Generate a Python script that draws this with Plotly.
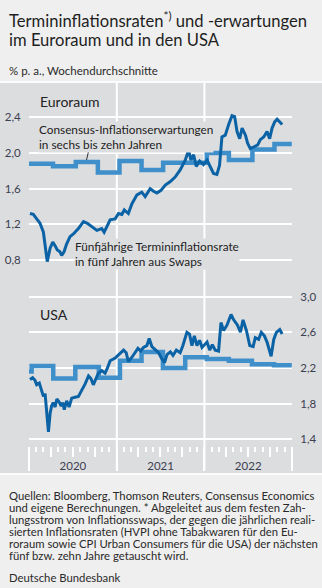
import plotly.graph_objects as go

W, H = 322, 588
FONT = "Lato"

# ---------------- data ----------------
eu_dates = ["2020-01-05","2020-01-19","2020-02-02","2020-02-16","2020-03-01","2020-03-08","2020-03-17","2020-03-29",
"2020-04-09","2020-04-18","2020-04-28","2020-05-09","2020-05-16","2020-05-26","2020-06-06","2020-06-20","2020-07-04",
"2020-07-25","2020-08-15","2020-08-31","2020-09-19","2020-10-10","2020-10-30","2020-11-09","2020-11-20","2020-12-04",
"2020-12-25","2021-01-08","2021-01-22","2021-02-01","2021-02-18","2021-03-05","2021-03-26","2021-04-15","2021-04-29",
"2021-05-20","2021-06-03","2021-06-17","2021-07-04","2021-07-22","2021-08-12","2021-09-01","2021-09-22","2021-10-13",
"2021-10-27","2021-11-06","2021-11-17","2021-11-28","2021-12-12","2021-12-28","2022-01-12","2022-01-26","2022-02-08",
"2022-02-22","2022-03-05","2022-03-15","2022-03-29","2022-04-12","2022-04-26","2022-05-07","2022-05-17","2022-05-28",
"2022-06-07","2022-06-21","2022-06-30","2022-07-11","2022-07-25","2022-08-11","2022-08-22","2022-09-05","2022-09-19",
"2022-09-30","2022-10-10","2022-10-21","2022-10-31","2022-11-11","2022-11-21"]
eu_5y5y = [1.32,1.31,1.26,1.21,1.11,0.96,0.78,0.93,
1.00,0.96,0.91,0.89,0.85,0.89,0.98,1.06,1.09,
1.15,1.23,1.21,1.17,1.13,1.15,1.11,1.17,1.25,
1.26,1.32,1.31,1.36,1.32,1.43,1.53,1.56,1.51,
1.60,1.57,1.55,1.58,1.64,1.68,1.73,1.81,1.92,
2.03,1.92,1.98,1.85,1.91,1.87,1.92,1.85,1.77,
1.76,1.86,2.18,2.20,2.32,2.42,2.41,2.24,2.16,
2.28,2.20,2.11,2.05,2.07,2.09,2.15,2.18,2.24,
2.16,2.28,2.35,2.38,2.35,2.32]

eu_cons_dates = ["2020-01-01","2020-04-10","2020-07-14","2020-10-14","2021-01-12","2021-04-14","2021-07-13",
"2021-10-12","2022-01-11","2022-04-13","2022-07-20","2022-10-20","2022-12-31"]
eu_cons = [1.88,1.85,1.90,1.78,1.91,1.81,1.89,1.89,2.00,1.92,2.04,2.10,2.10]

us_dates = ["2020-01-05","2020-01-16","2020-01-26","2020-02-02","2020-02-13","2020-02-23","2020-03-01","2020-03-08",
"2020-03-15","2020-03-22","2020-03-29","2020-04-05","2020-04-11","2020-04-19","2020-04-26","2020-05-05","2020-05-14",
"2020-05-21","2020-05-27","2020-06-06","2020-06-16","2020-06-27","2020-07-11","2020-07-25","2020-08-08","2020-08-22",
"2020-09-05","2020-09-15","2020-09-25","2020-10-07","2020-10-16","2020-10-30","2020-11-13","2020-11-23","2020-12-04",
"2020-12-25","2021-01-08","2021-01-18","2021-01-29","2021-02-09","2021-02-18","2021-03-05","2021-03-18","2021-03-30",
"2021-04-11","2021-04-22","2021-05-06","2021-05-16","2021-05-27","2021-06-10","2021-06-24","2021-07-08","2021-07-19",
"2021-07-29","2021-08-12","2021-08-23","2021-09-06","2021-09-22","2021-10-03","2021-10-20","2021-10-31","2021-11-10",
"2021-11-20","2021-12-01","2021-12-12","2021-12-22","2021-12-31","2022-01-12","2022-01-23","2022-02-03","2022-02-15",
"2022-03-01","2022-03-11","2022-03-22","2022-04-05","2022-04-22","2022-05-03","2022-05-19","2022-05-31","2022-06-11",
"2022-06-25","2022-07-09","2022-07-23","2022-08-01","2022-08-15","2022-08-26","2022-09-08","2022-09-19","2022-10-06",
"2022-10-17","2022-10-28","2022-11-11","2022-11-21"]
us_5y5y = [2.07,2.09,2.06,2.01,2.03,1.95,1.88,1.91,
1.69,1.48,1.69,1.78,1.81,1.76,1.85,1.82,1.77,
1.81,1.73,1.83,1.76,1.86,1.87,1.88,1.95,2.02,
2.11,2.08,2.01,2.08,2.14,2.17,2.14,2.20,2.28,
2.31,2.35,2.38,2.40,2.37,2.27,2.32,2.37,2.42,
2.39,2.43,2.45,2.53,2.44,2.40,2.37,2.30,2.26,
2.35,2.38,2.34,2.40,2.37,2.45,2.60,2.58,2.45,
2.56,2.45,2.51,2.43,2.46,2.49,2.40,2.46,2.40,
2.39,2.71,2.62,2.68,2.80,2.74,2.68,2.60,2.74,
2.62,2.45,2.44,2.54,2.52,2.60,2.56,2.49,2.33,
2.52,2.60,2.63,2.58]

us_cons_dates = ["2020-01-01","2020-01-12","2020-04-11","2020-07-12","2020-10-18","2021-01-14","2021-04-14",
"2021-07-12","2021-10-13","2022-01-11","2022-04-13","2022-07-18","2022-10-18","2022-12-31"]
us_cons = [2.16,2.22,2.08,2.21,2.09,2.28,2.38,2.20,2.32,2.30,2.28,2.24,2.23,2.23]

eu_ticks = [0.8, 1.2, 1.6, 2.0, 2.4]
us_ticks = [1.4, 1.8, 2.2, 2.6, 3.0]
x_range = ["2020-01-01", "2023-01-01"]
grid_years = ["2021-01-01", "2022-01-01"]

# ---------------- colours ----------------
PAGE = "#efefef"
PANEL = "#dcdddf"
DARK = "#0b63a6"
LIGHT = "#3f8fca"
TXT = "#222222"
TICK = "#3b4050"

def py(px):
    return 1 - px / H

def pxx(px):
    return px / W

X0, X1 = 29, 292
dom_x = [pxx(X0), pxx(X1)]

EU_R = [0.70, 2.75]
eu_top = 117.4 - (EU_R[1] - 2.4) * 89
eu_bot = 117.4 + (2.4 - EU_R[0]) * 89
US_R = [1.32, 3.25]
us_top = 296.7 - (US_R[1] - 3.0) * 89
us_bot = 296.7 + (3.0 - US_R[0]) * 89

fig = go.Figure()
fig.add_trace(go.Scatter(x=eu_cons_dates, y=eu_cons, mode="lines", line=dict(color=LIGHT, width=4.5, shape="hv"),
                         xaxis="x", yaxis="y", hoverinfo="skip"))
fig.add_trace(go.Scatter(x=eu_dates, y=eu_5y5y, mode="lines", line=dict(color=DARK, width=3),
                         xaxis="x", yaxis="y", hoverinfo="skip"))
fig.add_trace(go.Scatter(x=us_cons_dates, y=us_cons, mode="lines", line=dict(color=LIGHT, width=4.5, shape="hv"),
                         xaxis="x2", yaxis="y2", hoverinfo="skip"))
fig.add_trace(go.Scatter(x=us_dates, y=us_5y5y, mode="lines", line=dict(color=DARK, width=3),
                         xaxis="x2", yaxis="y2", hoverinfo="skip"))

tickfont = dict(family=FONT, size=11.5, color=TICK)

fig.update_layout(
    width=W, height=H, margin=dict(l=0, r=0, t=0, b=0),
    paper_bgcolor=PAGE, plot_bgcolor="rgba(0,0,0,0)",
    showlegend=False, separators=",.",
    font=dict(family=FONT, color=TXT),
    xaxis=dict(domain=dom_x, anchor="y", range=x_range, type="date", showgrid=False, zeroline=False,
               showticklabels=False, ticks="", showline=False),
    yaxis=dict(domain=[py(eu_bot), py(eu_top)], anchor="x", range=EU_R, tickvals=eu_ticks, tickformat=".1f",
               showgrid=True, gridcolor="white", gridwidth=2, zeroline=False, side="left",
               ticks="outside", ticklen=5, tickcolor="rgba(0,0,0,0)", tickfont=tickfont),
    xaxis2=dict(domain=dom_x, anchor="y2", range=x_range, type="date", showgrid=False, zeroline=False,
                showticklabels=False, ticks="outside", dtick="M3", tick0="2020-01-01", ticklen=9.5,
                tickwidth=1.5, tickcolor="white", showline=False,
                minor=dict(dtick="M1", tick0="2020-01-01", ticks="outside", ticklen=5, tickwidth=1.5, tickcolor="white")),
    xaxis3=dict(domain=dom_x, overlaying="x2", anchor="free", position=py(us_bot), range=x_range, type="date",
                showgrid=False, zeroline=False, showticklabels=False, ticks="outside", dtick="M12",
                tick0="2020-01-01", ticklen=24, tickwidth=1.5, tickcolor="white", showline=False),
    xaxis4=dict(domain=dom_x, overlaying="x2", anchor="free", position=py(us_bot + 11), range=x_range, type="date",
                showgrid=False, zeroline=False, showticklabels=True, ticks="", dtick="M12", tick0="2020-01-01",
                ticklabelmode="period", tickformat="%Y", tickfont=tickfont, showline=False),
    yaxis2=dict(domain=[py(us_bot), py(us_top)], anchor="x2", range=US_R, tickvals=us_ticks, tickformat=".1f",
                showgrid=True, gridcolor="white", gridwidth=2, zeroline=False, side="right",
                ticks="outside", ticklen=5, tickcolor="rgba(0,0,0,0)", tickfont=tickfont),
)
fig.add_trace(go.Scatter(x=x_range, y=[None, None], xaxis="x4", yaxis="y2", showlegend=False, hoverinfo="skip"))
fig.add_trace(go.Scatter(x=x_range, y=[None, None], xaxis="x3", yaxis="y2", showlegend=False, hoverinfo="skip"))

shapes = [
    dict(type="rect", xref="paper", yref="paper", x0=0, x1=1, y0=py(473), y1=py(83),
         fillcolor=PANEL, line=dict(width=0), layer="below"),
    dict(type="line", xref="paper", yref="paper", x0=0, x1=1, y0=py(82), y1=py(82),
         line=dict(color="white", width=1.5), layer="below"),
    dict(type="line", xref="paper", yref="paper", x0=0, x1=1, y0=py(474), y1=py(474),
         line=dict(color="white", width=1.5), layer="below"),
]
for d in grid_years:
    shapes.append(dict(type="line", xref="x2", yref="paper", x0=d, x1=d, y0=py(470), y1=py(83),
                       line=dict(color="white", width=2), layer="below"))
shapes.append(dict(type="line", xref="paper", yref="paper", x0=pxx(88.5), y0=py(151.5), x1=pxx(86.5), y1=py(160),
                   line=dict(color="#333333", width=1)))
fig.update_layout(shapes=shapes)

ann = []
def txt(x, y, s, size, color=TXT, bg=None):
    d = dict(xref="paper", yref="paper", x=pxx(x), y=py(y), xanchor="left", yanchor="middle",
             text=s, showarrow=False, font=dict(family=FONT, size=size, color=color), align="left")
    if bg:
        d.update(bgcolor=bg, borderpad=0)
    ann.append(d)

txt(6.5, 20.5, "Termininflationsraten<sup>*)</sup> und -erwartungen", 16.6, "#1e1e1e")
txt(6.5, 39.5, "im Euroraum und in den USA", 16.6, "#1e1e1e")
txt(6.5, 70, "% p. a., Wochendurchschnitte", 11.5, "#2a2a2a")

txt(37.5, 101, "Euroraum", 14, TXT)
txt(37.5, 314, "USA", 14, TXT)

txt(38, 137, "Consensus-Inflationserwartungen<br>in sechs bis zehn Jahren", 11.8, TXT, PANEL)
txt(73.5, 254, "Fünfjährige Termininflationsrate<br>in fünf Jahren aus Swaps", 11.8, TXT, PANEL)

src = ["Quellen: Bloomberg, Thomson Reuters, Consensus Economics",
       "und eigene Berechnungen. * Abgeleitet aus dem festen Zah-",
       "lungsstrom von Inflationsswaps, der gegen die jährlichen reali-",
       "sierten Inflationsraten (HVPI ohne Tabakwaren für den Eu-",
       "roraum sowie CPI Urban Consumers für die USA) der nächsten",
       "fünf bzw. zehn Jahre getauscht wird."]
ys = [495, 507, 519, 531, 543, 555]
for s, y in zip(src, ys):
    txt(6.5, y, s, 11.3, "#2a2a2a")
txt(6.5, 577, "Deutsche Bundesbank", 11.3, "#2a2a2a")

fig.update_layout(annotations=ann)
fig.write_html("out.html")
